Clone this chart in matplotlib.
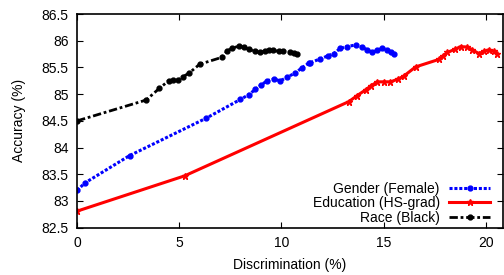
import matplotlib
matplotlib.use('Agg')
import matplotlib.pyplot as plt

# Dati
gender_x = [0.0, 0.39, 2.57, 6.32, 7.99, 8.4, 8.73, 9.0, 9.3, 9.63, 9.95, 10.3, 10.69, 11.0, 11.34, 11.42,
            11.9, 12.3, 12.57, 12.89, 13.2, 13.63, 13.95, 14.2, 14.44, 14.7, 14.94, 15.18, 15.35, 15.5]
gender_y = [83.2, 83.34, 83.85, 84.55, 84.9, 84.99, 85.09, 85.17, 85.25, 85.28, 85.25, 85.32, 85.4, 85.49, 85.58, 85.59,
            85.66, 85.72, 85.76, 85.86, 85.89, 85.92, 85.88, 85.83, 85.78, 85.82, 85.86, 85.83, 85.79, 85.75]

edu_x = [0.0, 5.26, 13.3, 13.7, 14.12, 14.4, 14.69, 15.0, 15.34, 15.7, 16.0, 16.57, 17.71, 17.9, 18.12, 18.5,
         18.77, 19.1, 19.35, 19.67, 19.9, 20.16, 20.4, 20.57]
edu_y = [82.81, 83.47, 84.86, 84.97, 85.08, 85.16, 85.23, 85.23, 85.23, 85.28, 85.34, 85.51, 85.65, 85.71, 85.78, 85.84,
         85.89, 85.88, 85.83, 85.76, 85.8, 85.83, 85.8, 85.75]

race_x = [0.0, 3.38, 4.03, 4.48, 4.7, 4.92, 5.2, 5.5, 6.0, 7.09, 7.34, 7.6, 7.91, 8.15, 8.4, 8.7, 8.97, 9.2,
          9.38, 9.6, 9.87, 10.1, 10.44, 10.6, 10.77]
race_y = [84.5, 84.89, 85.11, 85.25, 85.26, 85.26, 85.33, 85.4, 85.56, 85.69, 85.81, 85.86, 85.9, 85.88, 85.84, 85.8,
          85.78, 85.81, 85.83, 85.82, 85.8, 85.8, 85.78, 85.77, 85.75]

x_ticks = [0, 5, 10, 15, 20]
y_ticks = [82.5, 83, 83.5, 84, 84.5, 85, 85.5, 86, 86.5]

plt.rcParams['font.family'] = ['Liberation Sans', 'DejaVu Sans']

fig = plt.figure(figsize=(5.04, 2.75), dpi=100)
ax = fig.add_axes([0.153, 0.172, 0.845, 0.777])

ax.plot(gender_x, gender_y, color='blue', linestyle=(0, (1, 0.6)), linewidth=2.2,
        marker='o', markersize=3.5, label='Gender (Female)')
ax.plot(edu_x, edu_y, color='red', linestyle='-', linewidth=2.2,
        marker='*', markersize=5, label='Education (HS-grad)')
ax.plot(race_x, race_y, color='black', linestyle=(0, (3, 1, 1, 1)), linewidth=2.0,
        marker='o', markersize=3.5, label='Race (Black)')

ax.set_xlim(0, 20.85)
ax.set_ylim(82.5, 86.5)
ax.set_xticks(x_ticks)
ax.set_yticks(y_ticks)
ax.set_yticklabels(['%g' % v for v in y_ticks])
ax.tick_params(direction='in', top=True, right=True, labelsize=10, length=4, pad=6)
for s in ax.spines.values():
    s.set_linewidth(1.2)

ax.set_xlabel('Discrimination (%)', fontsize=10, labelpad=6)
ax.set_ylabel('Accuracy (%)', fontsize=10, labelpad=11)

leg = ax.legend(loc='lower right', bbox_to_anchor=(0.985, -0.018), fontsize=10, frameon=False,
                markerfirst=False, handlelength=2.9, handletextpad=0.7, labelspacing=0.02,
                borderaxespad=0.1)
for t in leg.get_texts():
    t.set_ha('right')

fig.savefig('out.png', dpi=100)
